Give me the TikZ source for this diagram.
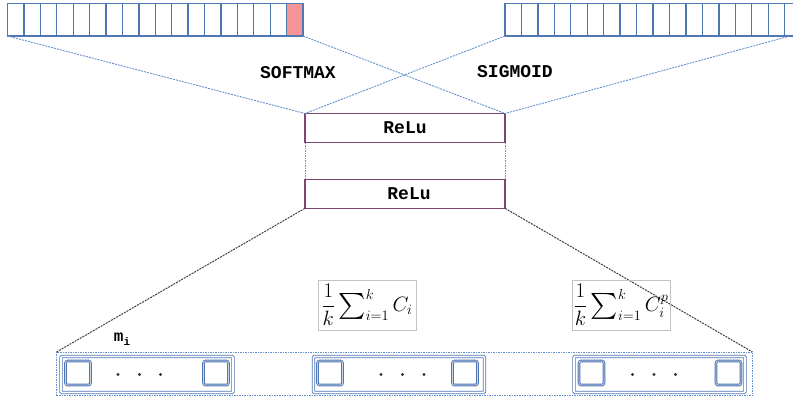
\documentclass[tikz,border=0pt]{standalone}
\usepackage{amsmath}
\usepackage{graphicx}
\usepackage{fontspec}
\setmonofont{Liberation Mono}
\usetikzlibrary{calc}
\definecolor{cellblue}{RGB}{80,118,180}
\definecolor{pinkc}{RGB}{245,150,150}
\definecolor{reluc}{RGB}{125,70,112}
\definecolor{dashblue}{RGB}{100,145,205}
\definecolor{fboxc}{RGB}{195,195,195}
\definecolor{dotc}{RGB}{50,45,70}
\newcommand{\bigsum}{\mathop{\vcenter{\hbox{\scalebox{1.25}{$\textstyle\sum$}}}}\nolimits}
\begin{document}
\begin{tikzpicture}[x=1pt,y=-1pt,
  cell/.style={draw=cellblue,line width=1.3pt,minimum width=16.42pt,minimum height=32.5pt,anchor=north west,inner sep=0pt,outer sep=0pt},
  relubox/.style={draw=reluc,line width=1.3pt,minimum width=200pt,minimum height=29pt,inner sep=0pt,outer sep=0pt,font=\ttfamily\bfseries\fontsize{18}{20}\selectfont},
  lab/.style={font=\ttfamily\bfseries\fontsize{18}{20}\selectfont,inner sep=0pt},
  bluedash/.style={draw=dashblue,line width=0.9pt,dash pattern=on 2pt off 1pt},
  bluedot/.style={draw=dashblue,line width=1pt,dash pattern=on 1.5pt off 1pt},
  blackdot/.style={draw=black!75,line width=1pt,dash pattern=on 2pt off 1pt},
  outerbox/.style={draw=dashblue,line width=1pt,dash pattern=on 1.5pt off 1pt,minimum width=696pt,minimum height=43.5pt,anchor=north west,inner sep=0pt,outer sep=0pt},
  grp/.style={draw=cellblue,double=white,double distance=1.6pt,line width=0.9pt,rounded corners=1pt,minimum height=36pt,anchor=north west,inner sep=0pt,outer sep=0pt},
  sq/.style={draw=cellblue,double=white!70!cellblue,double distance=0.8pt,line width=0.9pt,rounded corners=2pt,minimum width=25pt,minimum height=24pt,anchor=north west,inner sep=0pt,outer sep=0pt},
  dotn/.style={circle,fill=dotc,inner sep=0pt,minimum size=3.2pt},
  formbox/.style={draw=fboxc,line width=1pt,minimum width=98pt,minimum height=50pt,inner sep=0pt,outer sep=0pt,font=\fontsize{22}{24}\selectfont}
]
\useasboundingbox (0,0) rectangle (793,397);
% top arrays
\foreach \i in {0,...,16} {\node[cell] (L\i) at ({7.5+16.42*\i},3.5) {};}
\node[cell,fill=pinkc] (L17) at ({7.5+16.42*17},3.5) {};
\foreach \i in {0,...,17} {\node[cell] (R\i) at ({505+16.45*\i},3.5) {};}
\coordinate (Rend) at (790,36);
% relu boxes
\node[relubox] (r1) at (405,128) {ReLu};
\node[relubox] (r2) at (405,193.8) {\hspace*{8pt}ReLu};
% labels
\node[lab] (soft) at (298,73) {SOFTMAX};
\node[lab] (sig) at (515,72) {SIGMOID};
% connectors top
\draw[bluedash] (L0.south west) -- (r1.north west);
\draw[bluedash] (L17.south east) -- (r1.north east);
\draw[bluedash] (R0.south west) -- (r1.north west);
\draw[bluedash] (Rend) -- (r1.north east);
\draw[bluedot] (r1.south west) -- (r2.north west);
\draw[bluedot] (r1.south east) -- (r2.north east);
% bottom
\node[outerbox] (outer) at (56.5,352) {};
\draw[blackdot] (r2.south west) -- (outer.north west);
\draw[blackdot] (r2.south east) -- (outer.north east);
% groups
\node[grp,minimum width=172pt] (g1) at (61,356.5) {};
\node[grp,minimum width=171pt] (g2) at (313.5,356.5) {};
\node[grp,minimum width=171pt] (g3) at (574,356.5) {};
\node[sq] (s1a) at (65.5,361) {};
\node[sq] (s1b) at (203.5,361) {};
\node[sq] (s2a) at (317.5,361) {};
\node[sq] (s2b) at (452.5,361) {};
\node[sq] (s3a) at (579,361) {};
\node[sq] (s3b) at (716,361) {};
\node[dotn] (d11) at (118,374.5) {};
\node[dotn] (d12) at (139.5,374.5) {};
\node[dotn] (d13) at (160.5,374.5) {};
\node[dotn] (d21) at (381,374.5) {};
\node[dotn] (d22) at (402.5,374.5) {};
\node[dotn] (d23) at (424,374.5) {};
\node[dotn] (d31) at (632.5,374.5) {};
\node[dotn] (d32) at (654,374.5) {};
\node[dotn] (d33) at (675.5,374.5) {};
% m_i
\node[inner sep=0pt,font=\ttfamily\bfseries\fontsize{16}{17}\selectfont] (mi) at (122,339) {m\raisebox{-4pt}{\fontsize{11}{12}\selectfont i}};
% formulas
\node[formbox] (f1) at (367,305) {$\dfrac{1}{k}\bigsum_{i=1}^{k} C_i$};
\node[formbox] (f2) at (621,305) {$\dfrac{1}{k}\bigsum_{i=1}^{k} C_i^p$};
\end{tikzpicture}
\end{document}
